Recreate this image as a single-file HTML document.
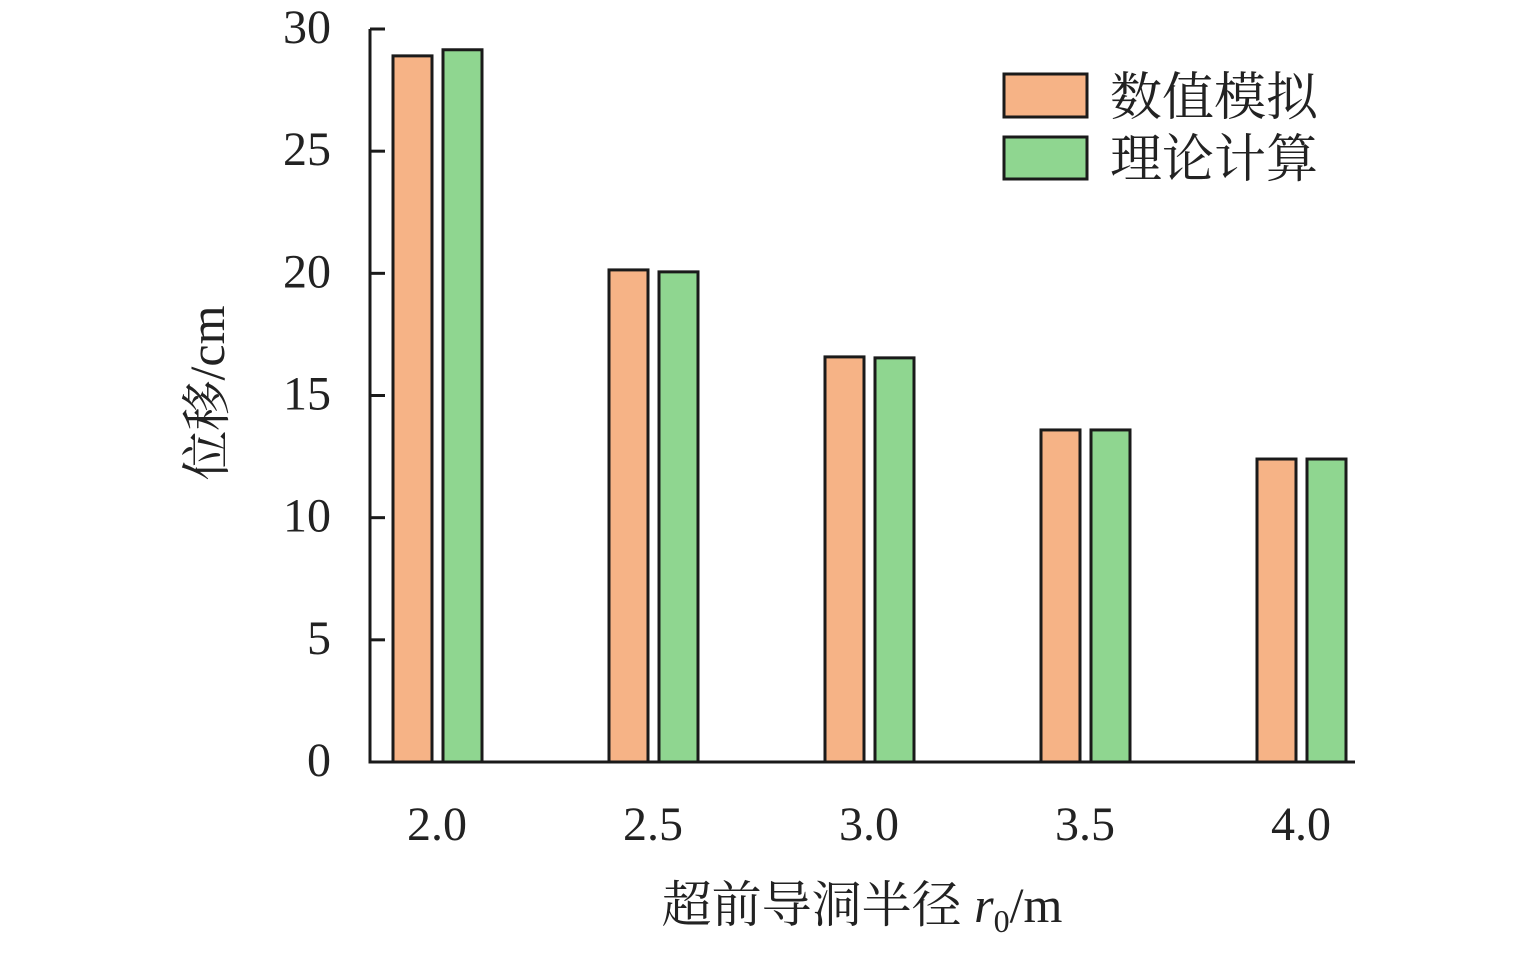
<!DOCTYPE html>
<html><head><meta charset="utf-8"><style>
body{margin:0;background:#fff;}
svg text{font-family:"Liberation Serif","Times New Roman",Times,"Noto Serif CJK SC",serif;fill:#222;}
</style></head><body>
<svg id="chart" width="1535" height="951" xmlns="http://www.w3.org/2000/svg">
<g id="plot"></g>
<g>
<rect x="1004" y="74" width="83" height="43" fill="#f6b386" stroke="#1a1a1a" stroke-width="3"/>
<text x="1110" y="115" font-size="52">数值模拟</text>
<rect x="1004" y="137" width="83" height="42" fill="#8fd690" stroke="#1a1a1a" stroke-width="3"/>
<text x="1110" y="177" font-size="52">理论计算</text>
</g>
<text transform="translate(224,393) rotate(-90)" text-anchor="middle" font-size="50">位移/cm</text>
<text x="862" y="922" text-anchor="middle" font-size="50">超前导洞半径 <tspan font-style="italic">r</tspan><tspan font-size="32" dy="10">0</tspan><tspan dy="-10">/m</tspan></text>
</svg>
<script>
const categories=["2.0","2.5","3.0","3.5","4.0"];
const numericalValues=[28.9,20.14,16.58,13.59,12.4];
const theoryValues=[29.15,20.06,16.54,13.59,12.4];
const yTicks=[0,5,10,15,20,25,30];
const NS="http://www.w3.org/2000/svg";
const g=document.getElementById('plot');
const x0=370,x1=1355,yBase=762,yTop=29;
const yScale=v=>yBase-(v/30)*(yBase-yTop);
const xCenter=i=>437+i*216;
function el(t,a){const e=document.createElementNS(NS,t);for(const k in a)e.setAttribute(k,a[k]);g.appendChild(e);return e;}
categories.forEach((c,i)=>{
  const cx=xCenter(i);
  const b1=el('rect',{x:cx-44,y:yScale(numericalValues[i]),width:39,height:yBase-yScale(numericalValues[i]),fill:'#f6b386',stroke:'#1a1a1a','stroke-width':3});
  
  
  const b2=el('rect',{x:cx+6,y:yScale(theoryValues[i]),width:39,height:yBase-yScale(theoryValues[i]),fill:'#8fd690',stroke:'#1a1a1a','stroke-width':3});
  
  
  const t=el('text',{x:cx,y:840,'text-anchor':'middle','font-size':48});
  t.textContent=c;
  
  
});
yTicks.forEach(v=>{
  const y=yScale(v);
  const tk=el('line',{x1:x0,x2:x0+15,y1:y,y2:y,stroke:'#1a1a1a','stroke-width':3});
  
  
  const t=el('text',{x:331,y:y+14,'text-anchor':'end','font-size':48});
  t.textContent=v;
  
  
});
const ya=el('line',{x1:x0,x2:x0,y1:yTop,y2:yBase+1.5,stroke:'#1a1a1a','stroke-width':3});


const xa=el('line',{x1:x0-1.5,x2:x1,y1:yBase,y2:yBase,stroke:'#1a1a1a','stroke-width':3});


</script>
</body></html>
